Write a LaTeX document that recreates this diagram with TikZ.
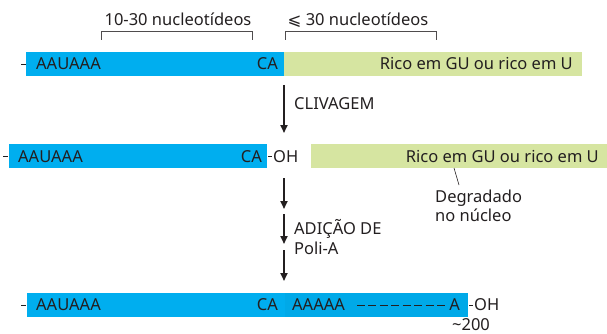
\documentclass[tikz,border=0pt]{standalone}
\usepackage{fontspec}
\setmainfont{Noto Sans}
\newfontfamily\symfont{DejaVu Sans}
\usetikzlibrary{arrows.meta}
\definecolor{mblue}{HTML}{00AEEF}
\definecolor{mgreen}{HTML}{D6E5A1}
\definecolor{ink}{HTML}{231F20}
\begin{document}
\begin{tikzpicture}[x=1pt,y=-1pt,
  lbl/.style={inner sep=0pt, text=ink, font=\fontsize{16.5}{19}\selectfont},
  bracketline/.style={draw=ink!80, line width=0.8pt},
  tickline/.style={draw=ink, line width=0.8pt},
  steparrow/.style={draw=ink, line width=1.8pt, -{Triangle[length=8pt,width=7pt]}},
  thinline/.style={draw=ink, line width=0.6pt}]
\useasboundingbox (0,0) rectangle (607,334);

% brackets
\draw[bracketline] (101,40) -- (101,31) -- (252,31) -- (252,40);
\draw[bracketline] (285,40) -- (285,31) -- (436,31) -- (436,40);
\node[lbl, anchor=base] (l1) at (178,26) {10-30 nucleotídeos};
\node[lbl, anchor=base] (l2) at (358,26) {{\symfont ⩽} 30 nucleotídeos};

% row 1
\fill[mblue] (26,52) rectangle (284,76);
\fill[mgreen] (284,52) rectangle (582,76);
\draw[tickline] (21,64) -- (26,64);
\node[lbl, anchor=base west] (r1a) at (36,70) {AAUAAA};
\node[lbl, anchor=base east] (r1ca) at (278,70) {CA};
\node[lbl, anchor=base east] (r1g) at (573,70) {Rico em GU ou rico em U};

% arrow 1
\coordinate (a1s) at (284,85);
\coordinate (a1e) at (284,133);
\draw[steparrow] (a1s) -- (a1e);
\node[lbl, anchor=base west] (cliv) at (294,110) {CLIVAGEM};

% row 2
\fill[mblue] (9,144) rectangle (267,168);
\fill[mgreen] (311,144) rectangle (607,168);
\draw[tickline] (3,156) -- (8,156);
\node[lbl, anchor=base west] (r2a) at (18,162) {AAUAAA};
\node[lbl, anchor=base east] (r2ca) at (262,162) {CA};
\draw[tickline] (268,156) -- (272,156);
\node[lbl, anchor=base west] (r2oh) at (273,162) {OH};
\node[lbl, anchor=base east] (r2g) at (599,162) {Rico em GU ou rico em U};

% degraded label
\node[lbl, anchor=base west] (deg) at (435,202) {Degradado};
\node[lbl, anchor=base west] (deg2) at (435,221) {no núcleo};
\coordinate (dg1) at (454,168);
\coordinate (dg2) at (459,185);
\draw[thinline] (dg1) -- (dg2);

% arrows 2-4
\coordinate (a2s) at (284,178);
\coordinate (a2e) at (284,209);
\coordinate (a3s) at (284,214);
\coordinate (a3e) at (284,244);
\coordinate (a4s) at (284,250);
\coordinate (a4e) at (284,281);
\draw[steparrow] (a2s) -- (a2e);
\draw[steparrow] (a3s) -- (a3e);
\draw[steparrow] (a4s) -- (a4e);
\node[lbl, anchor=base west] (adi) at (294,234) {ADIÇÃO DE};
\node[lbl, anchor=base west] (poli) at (294,254) {Poli-A};

% row 3
\fill[mblue] (27,293) rectangle (285,317);
\fill[mblue!97!black] (285,293) rectangle (468,317);
\draw[tickline] (21,305) -- (26,305);
\node[lbl, anchor=base west] (r3a) at (36,310.5) {AAUAAA};
\node[lbl, anchor=base east] (r3ca) at (278,310.5) {CA};
\node[lbl, anchor=base west] (r3p) at (292,310.5) {AAAAA};
\coordinate (ds1) at (357,305);
\coordinate (ds2) at (445,305);
\draw[draw=ink, line width=0.8pt, dash pattern=on 8pt off 3.43pt] (ds1) -- (ds2);
\node[lbl, anchor=base east] (r3last) at (460,310.5) {A};
\draw[tickline] (469,305) -- (473,305);
\node[lbl, anchor=base west] (r3oh) at (474,310.5) {OH};
\node[lbl, anchor=base] (n200) at (471,330.5) {\textasciitilde200};
\end{tikzpicture}
\end{document}
